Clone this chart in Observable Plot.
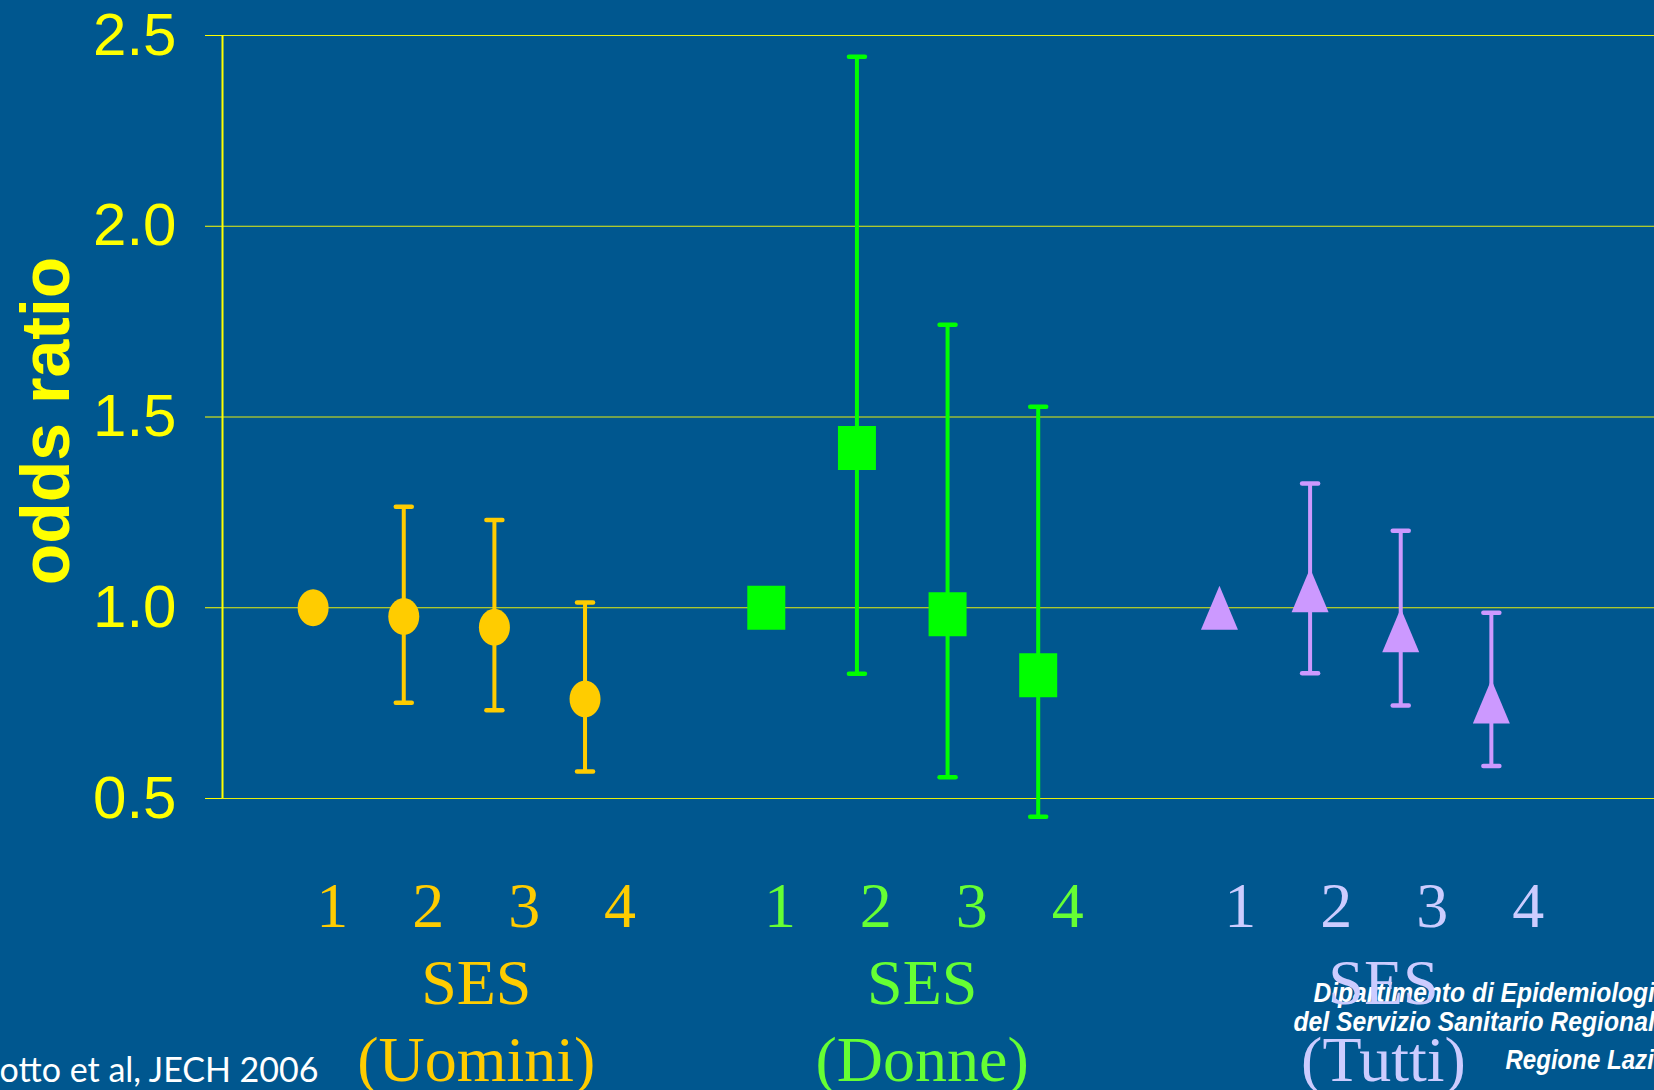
<!DOCTYPE html>
<html>
<head>
<meta charset="utf-8">
<script src="https://cdn.jsdelivr.net/npm/d3@7"></script>
<script src="https://cdn.jsdelivr.net/npm/@observablehq/plot@0.6"></script>
<style>
  html, body { margin: 0; padding: 0; background: #00578F; overflow: hidden; }
</style>
</head>
<body>
<div id="chart"></div>
<script>
// Odds ratios by SES level (1 = reference) with 95% confidence intervals
const groups = ["Uomini", "Donne", "Tutti"];
const sesLevels = [1, 2, 3, 4];

const orUomini = [1.00, 0.977, 0.949, 0.761];
const loUomini = [null, 0.751, 0.731, 0.571];
const hiUomini = [null, 1.265, 1.230, 1.014];

const orDonne = [1.00, 1.419, 0.983, 0.823];
const loDonne = [null, 0.827, 0.556, 0.452];
const hiDonne = [null, 2.444, 1.742, 1.527];

const orTutti = [1.00, 1.046, 0.941, 0.754];
const loTutti = [null, 0.828, 0.744, 0.585];
const hiTutti = [null, 1.326, 1.202, 0.987];

const yTicks = [0.5, 1.0, 1.5, 2.0, 2.5];
const sourceNote = "otto et al, JECH 2006";
const logoLines = ["Dipartimento di Epidemiologia", "del Servizio Sanitario Regionale", "Regione Lazio"];

// ---- styling / layout ----
const bg = "#00578F";
const markColors = ["#FFCC00", "#00FF00", "#CC99FF"];
const labelColors = ["#FFCC00", "#66FF33", "#CCCCFF"];
const groupStride = 5;          // slots per group on the x axis
const labelStep = 1.059;        // spacing of the SES digit labels
const labelShift = [0.21, 0.15, 0.23];
const titleShift = [1.80, 1.72, 1.81];
const logoOffsets = [203, 232, 270];   // baselines below the frame
const logoWidths = [355, 375, 163];    // condensed line widths

const series = [
  {or: orUomini, lo: loUomini, hi: hiUomini},
  {or: orDonne, lo: loDonne, hi: hiDonne},
  {or: orTutti, lo: loTutti, hi: hiTutti}
];

const rows = [];
series.forEach((s, g) => {
  sesLevels.forEach((level, i) => {
    rows.push({
      group: groups[g], g, level,
      x: g * groupStride + i,
      labelX: g * groupStride + i * labelStep + labelShift[g],
      or: s.or[i], lo: s.lo[i], hi: s.hi[i],
      color: markColors[g], labelColor: labelColors[g]
    });
  });
});
const withCI = rows.filter(d => d.hi != null);
const titles = groups.map((name, g) => ({
  name, x: g * groupStride + titleShift[g], color: labelColors[g]
}));

// custom marker shapes
const ellipse = {
  draw(ctx) {
    const rx = 15.5, ry = 18.5, k = 0.5523;
    ctx.moveTo(rx, 0);
    ctx.bezierCurveTo(rx, ry * k, rx * k, ry, 0, ry);
    ctx.bezierCurveTo(-rx * k, ry, -rx, ry * k, -rx, 0);
    ctx.bezierCurveTo(-rx, -ry * k, -rx * k, -ry, 0, -ry);
    ctx.bezierCurveTo(rx * k, -ry, rx, -ry * k, rx, 0);
    ctx.closePath();
  }
};
const box = {
  draw(ctx) {
    const w = 19, h = 22;
    ctx.moveTo(-w, -h); ctx.lineTo(w, -h); ctx.lineTo(w, h); ctx.lineTo(-w, h); ctx.closePath();
  }
};
const tri = {
  draw(ctx) {
    const w = 18.5, h = 22;
    ctx.moveTo(0, -h); ctx.lineTo(w, h); ctx.lineTo(-w, h); ctx.closePath();
  }
};
const cap = {
  draw(ctx) { ctx.moveTo(-8, 0); ctx.lineTo(8, 0); }
};
const shapes = [ellipse, box, tri];

const serif = "'Liberation Serif', 'Times New Roman', serif";
const sans = "'Liberation Sans', Arial, sans-serif";

const chart = Plot.plot({
  width: 1654,
  height: 1090,
  marginLeft: 222,
  marginRight: 0,
  marginTop: 35,
  marginBottom: 292,
  style: {background: bg},
  x: {domain: [-1, 14.8], axis: null},
  y: {domain: [0.5, 2.5], axis: null},
  marks: [
    // horizontal gridlines
    Plot.ruleY(yTicks, {stroke: "#FFFF00", strokeWidth: 1, strokeOpacity: 0.9}),
    // y axis with ticks and labels
    Plot.axisY(yTicks, {
      tickSize: 17, tickPadding: 29, color: "#FFFF00",
      fontSize: 60, fontFamily: sans, tickFormat: d3.format(".1f"), label: null
    }),
    Plot.ruleX([-1], {y1: 0.5, y2: 2.5, stroke: "#FFFF00", strokeWidth: 2}),
    Plot.text(["odds ratio"], {
      frameAnchor: "left", rotate: -90, dx: -154, dy: 4,
      textAnchor: "middle", lineAnchor: "bottom",
      fontSize: 68, fontWeight: "bold", fontFamily: sans, fill: "#FFFF00"
    }),

    // department credit
    ...logoLines.map((line, i) => Plot.text([line], {
      frameAnchor: "bottom-right", textAnchor: "end", lineAnchor: "bottom",
      dx: 14, dy: logoOffsets[i],
      fontSize: 28, fontWeight: "bold", fontStyle: "italic", fontFamily: sans,
      fill: "white"
    })),

    // confidence intervals
    Plot.ruleX(withCI, {x: "x", y1: "lo", y2: "hi", stroke: "color", strokeWidth: 4}),
    Plot.dot(withCI, {x: "x", y: "hi", symbol: cap, stroke: "color", strokeWidth: 4.5, strokeLinecap: "round"}),
    Plot.dot(withCI, {x: "x", y: "lo", symbol: cap, stroke: "color", strokeWidth: 4.5, strokeLinecap: "round"}),

    // odds ratio markers
    ...shapes.map((shape, g) => Plot.dot(rows.filter(d => d.g === g), {
      x: "x", y: "or", symbol: shape, fill: "color", stroke: "none"
    })),

    // SES level labels and group titles
    Plot.text(rows, {
      x: "labelX", text: d => String(d.level), frameAnchor: "bottom", dy: 108,
      lineAnchor: "middle", fill: "labelColor", fontSize: 64, fontFamily: serif
    }),
    Plot.text(titles, {
      x: "x", text: () => "SES", frameAnchor: "bottom", dy: 185,
      lineAnchor: "middle", fill: "color", fontSize: 64, fontFamily: serif
    }),
    Plot.text(titles, {
      x: "x", text: d => `(${d.name})`, frameAnchor: "bottom", dy: 262,
      lineAnchor: "middle", fill: "color", fontSize: 64, fontFamily: serif
    }),

    // source note
    Plot.text([sourceNote], {
      frameAnchor: "bottom-left", dx: 96, dy: 283, textAnchor: "end", lineAnchor: "bottom",
      fontSize: 34, fontFamily: "Lato, 'DejaVu Sans', sans-serif", fill: "white"
    })
  ]
});

// the department credit is set in a condensed cut
d3.select(chart).selectAll("text").each(function() {
  const i = logoLines.indexOf(this.textContent);
  if (i >= 0) {
    this.setAttribute("textLength", logoWidths[i]);
    this.setAttribute("lengthAdjust", "spacingAndGlyphs");
  }
});

document.getElementById("chart").appendChild(chart);
</script>
</body>
</html>
